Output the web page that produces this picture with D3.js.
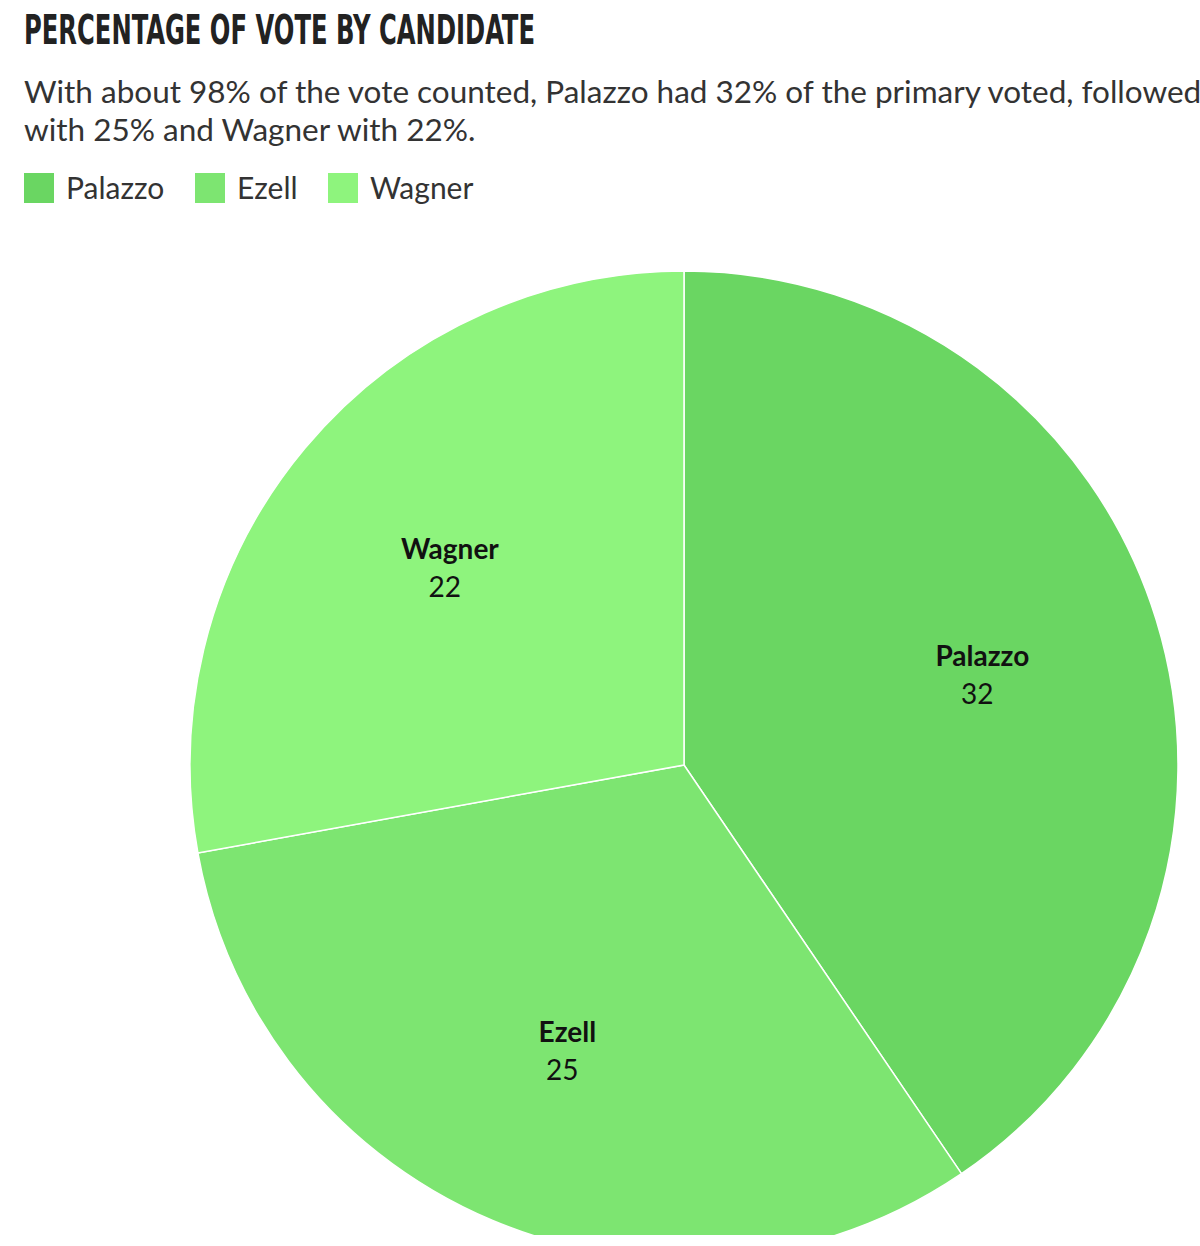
<!DOCTYPE html>
<html>

<head>
  <meta charset="utf-8">
  <title>Percentage of vote by candidate</title>
  <script src="https://d3js.org/d3.v7.min.js"></script>
  <style>
    html, body { margin: 0; padding: 0; background: #fff; overflow: hidden; }
  </style>
</head>

<body>

  <script>
    var width = 1200;
    var height = 1246;

    // data
    var candidates = ["Palazzo", "Ezell", "Wagner"];
    var votes = [32, 25, 22];
    var colors = ["#6ad662", "#7de571", "#8ef47d"];
    var title = "PERCENTAGE OF VOTE BY CANDIDATE";
    var subtitle = ["With about 98% of the vote counted, Palazzo had 32% of the primary voted, followed by Ezell",
      "with 25% and Wagner with 22%."];

    var svg = d3.select("body").append("svg").attr("width", width).attr("height", height);

    svg.append("text")
      .attr("x", 24).attr("y", 44)
      .attr("font-family", "'Liberation Sans Narrow', 'DejaVu Sans Condensed', sans-serif")
      .attr("font-weight", "bold")
      .attr("font-size", 41)
      .attr("fill", "#222")
      .attr("textLength", 511)
      .attr("lengthAdjust", "spacingAndGlyphs")
      .text(title);

    // subtitle runs off the right edge, as in the original
    svg.selectAll(".sub")
      .data(subtitle)
      .enter()
      .append("text")
      .attr("class", "sub")
      .attr("x", 24)
      .attr("y", function (d, i) { return 103 + i * 38 })
      .attr("font-family", "Lato, sans-serif")
      .attr("font-size", 31.5)
      .attr("fill", "#333")
      .text(function (d) { return d });

    // legend
    var legendX = [24, 195, 328];
    var legend = svg.selectAll(".legend")
      .data(candidates)
      .enter()
      .append("g")
      .attr("class", "legend")
      .attr("transform", function (d, i) { return "translate(" + legendX[i] + ",173)" });

    legend.append("rect")
      .attr("width", 30).attr("height", 30)
      .attr("fill", function (d, i) { return colors[i] });

    legend.append("text")
      .attr("x", 42).attr("y", 26)
      .attr("font-family", "Lato, sans-serif")
      .attr("font-size", 30)
      .attr("fill", "#333")
      .text(function (d) { return d });

    // pie
    var cx = 684, cy = 765, r = 494;

    svg.append("clipPath").attr("id", "clip")
      .append("rect").attr("x", 0).attr("y", 0).attr("width", width).attr("height", 1235);

    var pie = d3.pie().sort(null).value(function (d) { return d });
    var arcs = pie(votes);
    var arc = d3.arc().innerRadius(0).outerRadius(r);
    var labelArc = d3.arc().innerRadius(618).outerRadius(0);

    var g = svg.append("g")
      .attr("clip-path", "url(#clip)")
      .append("g")
      .attr("transform", "translate(" + cx + "," + cy + ")");

    g.selectAll("path")
      .data(arcs)
      .enter()
      .append("path")
      .attr("d", arc)
      .attr("fill", function (d, i) { return colors[i] })
      .attr("stroke", "#fff")
      .attr("stroke-width", 1.5);

    var labels = g.selectAll(".label")
      .data(arcs)
      .enter()
      .append("g")
      .attr("class", "label")
      .attr("transform", function (d) {
        var c = labelArc.centroid(d);
        return "translate(" + c[0] + "," + c[1] + ")";
      });

    labels.append("text")
      .attr("x", 3).attr("y", -8)
      .attr("text-anchor", "middle")
      .attr("font-family", "Lato, sans-serif")
      .attr("font-weight", "bold")
      .attr("font-size", 28)
      .attr("fill", "#111")
      .text(function (d, i) { return candidates[i] });

    labels.append("text")
      .attr("x", -2).attr("y", 30)
      .attr("text-anchor", "middle")
      .attr("font-family", "Lato, sans-serif")
      .attr("font-size", 28)
      .attr("fill", "#111")
      .text(function (d) { return d.value });
  </script>

</body>

</html>
